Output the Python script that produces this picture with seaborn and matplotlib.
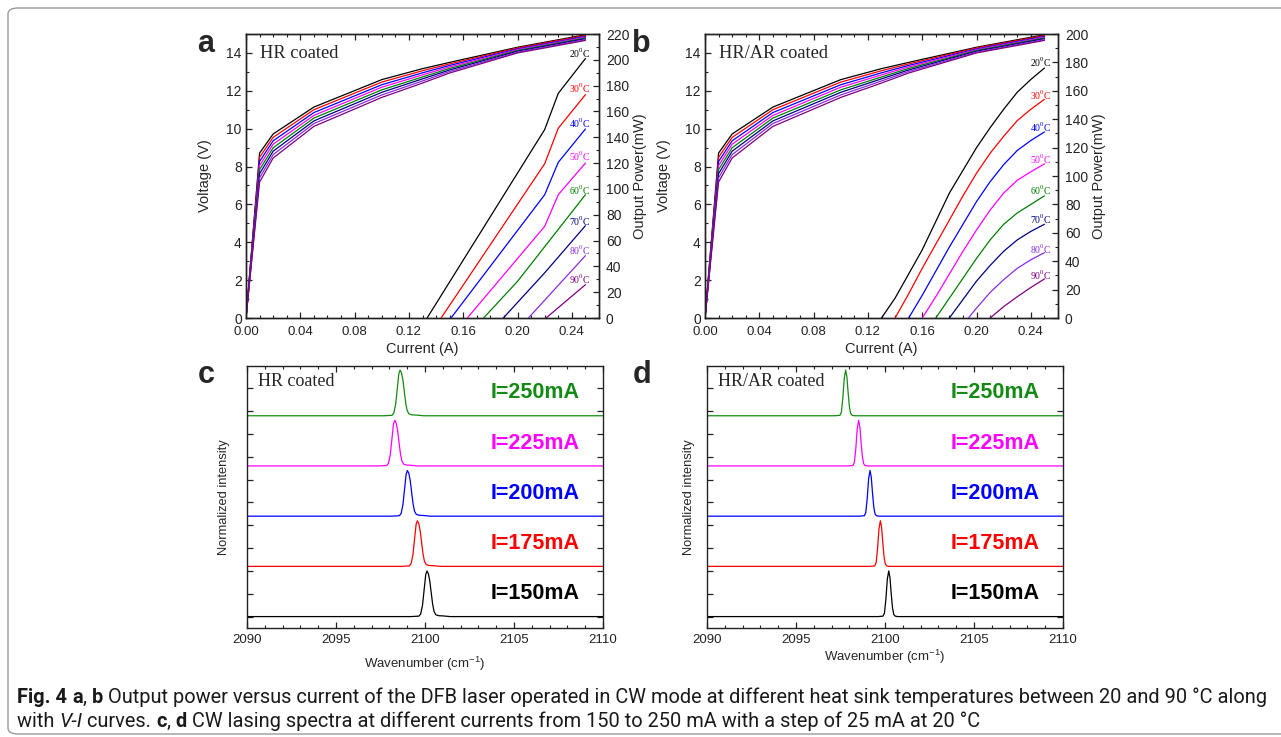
import matplotlib
matplotlib.use("Agg")
import matplotlib.pyplot as plt
import seaborn as sns
from matplotlib.ticker import MultipleLocator, FormatStrFormatter
from matplotlib.patches import FancyBboxPatch
from matplotlib import font_manager

W, H = 1281, 737

# ---------------- data ----------------
temps = [20, 30, 40, 50, 60, 70, 80, 90]
colors = ["#000000", "#ff0000", "#0000ff", "#ff00ff", "#008000", "#000080", "#8a2be2", "#800080"]

# V-I curves (same in both coatings)
cur_vi = [0.0, 0.01, 0.02, 0.05, 0.10, 0.13, 0.15, 0.20, 0.25]
volt_20 = [0, 8.71, 9.72, 11.14, 12.59, 13.17, 13.50, 14.30, 14.96]
volt_30 = [0, 8.49, 9.54, 11.00, 12.46, 13.06, 13.42, 14.26, 14.92]
volt_40 = [0, 8.27, 9.36, 10.85, 12.32, 12.95, 13.34, 14.21, 14.87]
volt_50 = [0, 8.05, 9.18, 10.70, 12.19, 12.84, 13.26, 14.17, 14.83]
volt_60 = [0, 7.84, 8.99, 10.56, 12.05, 12.73, 13.18, 14.13, 14.79]
volt_70 = [0, 7.62, 8.81, 10.41, 11.92, 12.63, 13.10, 14.09, 14.75]
volt_80 = [0, 7.40, 8.63, 10.27, 11.78, 12.52, 13.02, 14.04, 14.70]
volt_90 = [0, 7.18, 8.45, 10.12, 11.65, 12.41, 12.94, 14.00, 14.66]
volts = [volt_20, volt_30, volt_40, volt_50, volt_60, volt_70, volt_80, volt_90]

# L-I, HR coated (panel a)
hr_cur = [
    [0.1334, 0.22, 0.23, 0.25],
    [0.1437, 0.22, 0.23, 0.25],
    [0.151, 0.22, 0.23, 0.25],
    [0.163, 0.22, 0.23, 0.25],
    [0.175, 0.20, 0.25],
    [0.1895, 0.22, 0.25],
    [0.208, 0.25],
    [0.221, 0.25],
]
hr_pow = [
    [0, 146, 174, 201],
    [0, 119.5, 147, 173],
    [0, 95.5, 120.6, 146.4],
    [0, 71, 95.5, 120],
    [0, 28.4, 95.5],
    [0, 35, 71.5],
    [0, 48.3],
    [0, 25.8],
]
hr_lab_y = [205, 178, 151, 125, 98.6, 75, 52, 29.7]

# L-I, HR/AR coated (panel b)
ar_cur = [
    [0.13, 0.14, 0.15, 0.16, 0.17, 0.18, 0.19, 0.20, 0.21, 0.22, 0.23, 0.24, 0.25],
    [0.14, 0.15, 0.16, 0.17, 0.18, 0.19, 0.20, 0.21, 0.22, 0.23, 0.24, 0.25],
    [0.15, 0.16, 0.17, 0.18, 0.19, 0.20, 0.21, 0.22, 0.23, 0.24, 0.25],
    [0.16, 0.17, 0.18, 0.19, 0.20, 0.21, 0.22, 0.23, 0.24, 0.25],
    [0.17, 0.18, 0.19, 0.20, 0.21, 0.22, 0.23, 0.24, 0.25],
    [0.18, 0.19, 0.20, 0.21, 0.22, 0.23, 0.24, 0.25],
    [0.194, 0.20, 0.21, 0.22, 0.23, 0.24, 0.25],
    [0.21, 0.22, 0.23, 0.24, 0.25],
]
ar_pow = [
    [0, 14, 31, 48, 68, 88, 104, 120, 134, 147, 159, 168, 176],
    [0, 17, 35, 52, 69, 86, 102, 116, 128, 139, 147, 154],
    [0, 16, 33, 50, 66, 82, 96, 108, 118, 125, 131],
    [0, 15, 31, 47, 62, 76, 88, 97, 103, 108.5],
    [0, 14, 28, 42, 55, 66, 74, 80, 86],
    [0, 13, 26, 37, 47, 55, 61, 66],
    [0, 7, 18, 27, 35, 41, 46],
    [0, 8, 15, 21.5, 27.5],
]
ar_lab_y = [180, 156.6, 134.5, 112, 89.7, 69.7, 48.6, 29.8]

# spectra
currents = ["I=150mA", "I=175mA", "I=200mA", "I=225mA", "I=250mA"]
spec_colors = ["#000000", "#ff0000", "#0000ff", "#ff00ff", "#138a13"]
spec_offset = [0, 1.1, 2.2, 3.3, 4.4]
hr_peaks = [2100.11, 2099.57, 2099.01, 2098.30, 2098.60]
ar_peaks = [2100.21, 2099.74, 2099.16, 2098.52, 2097.79]
# line profiles (offset from peak in cm-1, normalized intensity)
hr_prof_x = [-0.9, -0.45, -0.35, -0.25, -0.15, -0.07, 0.0, 0.08, 0.16, 0.24, 0.32, 0.40, 0.50, 0.65, 0.9, 1.3]
hr_prof_y = [0.0, 0.01, 0.06, 0.25, 0.62, 0.92, 1.0, 0.94, 0.78, 0.52, 0.27, 0.11, 0.04, 0.02, 0.015, 0.0]
ar_prof_x = [-0.6, -0.32, -0.24, -0.16, -0.08, 0.0, 0.07, 0.14, 0.21, 0.28, 0.36, 0.5]
ar_prof_y = [0.0, 0.01, 0.08, 0.38, 0.82, 1.0, 0.85, 0.5, 0.2, 0.05, 0.01, 0.0]

# ---------------- style ----------------
sns.set_theme(style="ticks")
plt.rcParams["font.family"] = ["Liberation Sans", "DejaVu Sans"]
plt.rcParams["axes.linewidth"] = 1.0
plt.rcParams["axes.edgecolor"] = "#222222"
plt.rcParams["xtick.color"] = "#222222"
plt.rcParams["ytick.color"] = "#222222"

fig = plt.figure(figsize=(W / 100, H / 100), dpi=100)
fig.patch.set_facecolor("white")


def px_axes(l, t, r, b):
    return fig.add_axes([l / W, 1 - b / H, (r - l) / W, (b - t) / H])


def tick_style(ax):
    ax.tick_params(which="major", direction="in", length=4, width=0.9, labelsize=10)
    ax.tick_params(which="minor", direction="in", length=2, width=0.8)


def vi_panel(ax, p_cur, p_pow, lab_y, lab_x, pmax, title):
    ax2 = ax.twinx()
    for v, c in zip(volts, colors):
        sns.lineplot(x=cur_vi, y=v, color=c, lw=0.9, ax=ax, estimator=None, sort=False)
    for i_, p_, c in zip(p_cur, p_pow, colors):
        sns.lineplot(x=i_, y=p_, color=c, lw=0.9, ax=ax2, estimator=None, sort=False)
    for t, y, c in zip(temps, lab_y, colors):
        ax2.text(lab_x, y, r"%d$^\mathregular{0}$C" % t, color=c, ha="right", va="center",
                 fontsize=7, family="Liberation Serif")
    ax.set_xlim(0, 0.26)
    ax.set_ylim(0, 15)
    ax2.set_ylim(0, pmax)
    ax.xaxis.set_major_locator(MultipleLocator(0.04))
    ax.xaxis.set_minor_locator(MultipleLocator(0.01))
    ax.xaxis.set_major_formatter(FormatStrFormatter("%.2f"))
    ax.yaxis.set_major_locator(MultipleLocator(2))
    ax.yaxis.set_minor_locator(MultipleLocator(1))
    ax2.yaxis.set_major_locator(MultipleLocator(20))
    ax2.yaxis.set_minor_locator(MultipleLocator(10))
    tick_style(ax)
    tick_style(ax2)
    ax.tick_params(axis="x", which="both", top=True, pad=5.5, labelsize=9.5)
    ax.tick_params(axis="y", pad=3)
    ax2.tick_params(axis="y", pad=5)
    ax.set_xlabel("Current (A)", fontsize=10.5)
    ax.set_ylabel("Voltage (V)", fontsize=10.5)
    ax2.set_ylabel("Output Power(mW)", fontsize=10.5)
    ax.xaxis.set_label_coords(0.5, -0.085)
    ax.yaxis.set_label_coords(-0.096, 0.5)
    ax2.yaxis.set_label_coords(1.096, 0.5)
    ax.text(0.04, 0.932, title, transform=ax.transAxes, family="Liberation Serif",
            fontsize=13.2, va="center", ha="left")


def spec_panel(ax, peaks, prof_x, prof_y, title, xl_y, yl_x):
    for pk, off, c, lab in zip(peaks, spec_offset, spec_colors, currents):
        xs = [2090] + [pk + d for d in prof_x] + [2110]
        ys = [off] + [off + v for v in prof_y] + [off]
        sns.lineplot(x=xs, y=ys, color=c, lw=0.9, ax=ax, estimator=None, sort=False)
        ax.text(2108.7, off + 0.5, lab, color=c, ha="right", va="center",
                fontsize=15.5, fontweight="bold")
    ax.set_xlim(2090, 2110)
    ax.set_ylim(-0.25, 5.49)
    ax.xaxis.set_major_locator(MultipleLocator(5))
    ax.xaxis.set_minor_locator(MultipleLocator(1))
    ax.yaxis.set_major_locator(MultipleLocator(0.5))
    tick_style(ax)
    ax.tick_params(axis="x", which="both", top=True, pad=4, labelsize=9.5)
    ax.tick_params(axis="y", which="both", right=True, labelleft=False)
    ax.set_xlabel(r"Wavenumber (cm$^\mathregular{-1}$)", fontsize=9.5)
    ax.set_ylabel("Normalized intensity", fontsize=9.3)
    ax.xaxis.set_label_coords(0.5, xl_y)
    ax.yaxis.set_label_coords(yl_x, 0.5)
    ax.text(0.03, 0.942, title, transform=ax.transAxes, family="Liberation Serif",
            fontsize=13, va="center", ha="left")


ax_a = px_axes(246, 34, 599, 318)
ax_b = px_axes(705, 34, 1058, 318)
ax_c = px_axes(247, 366, 603, 628)
ax_d = px_axes(707, 366, 1063, 628)

vi_panel(ax_a, hr_cur, hr_pow, hr_lab_y, 0.2535, 220, "HR coated")
vi_panel(ax_b, ar_cur, ar_pow, ar_lab_y, 0.2550, 200, "HR/AR coated")
spec_panel(ax_c, hr_peaks, hr_prof_x, hr_prof_y, "HR coated", -0.103, -0.048)
spec_panel(ax_d, ar_peaks, ar_prof_x, ar_prof_y, "HR/AR coated", -0.076, -0.034)

# panel letters
for s, x, y in [("a", 206, 52), ("b", 641, 52), ("c", 206, 383), ("d", 642, 383)]:
    fig.text(x / W, 1 - y / H, s, fontsize=22, fontweight="bold", ha="center", va="baseline")

# outer frame
fig.patches.append(FancyBboxPatch((8 / W, 1 - 734 / H), 1300 / W, 726 / H,
                                  boxstyle="round,pad=0,rounding_size=0.008",
                                  transform=fig.transFigure, fill=False,
                                  edgecolor="#9a9a9a", lw=1.0, figure=fig))

# caption, drawn as runs of differently styled text
names = {f.name for f in font_manager.fontManager.ttflist}
cap_font = "Liberation Sans Narrow" if "Liberation Sans Narrow" in names else "Roboto"
line1 = [("Fig. 4 ", "bold", "normal"), ("a", "bold", "normal"), (", ", "normal", "normal"),
         ("b", "bold", "normal"),
         (" Output power versus current of the DFB laser operated in CW mode at different heat sink "
          "temperatures between 20 and 90 \u00b0C along", "normal", "normal")]
line2 = [("with ", "normal", "normal"), ("V-I", "normal", "italic"), (" curves. ", "normal", "normal"),
         ("c", "bold", "normal"), (", ", "normal", "normal"), ("d", "bold", "normal"),
         (" CW lasing spectra at different currents from 150 to 250 mA with a step of 25 mA at 20 \u00b0C",
          "normal", "normal")]

renderer = fig.canvas.get_renderer()


def draw_runs(runs, x0, y0, size):
    x = x0
    texts = []
    for s, wt, st in runs:
        t = fig.text(x / W, 1 - y0 / H, s, fontsize=size, family=cap_font, fontweight=wt,
                     fontstyle=st, ha="left", va="baseline", color="#1a1a1a")
        x += t.get_window_extent(renderer).width
        texts.append(t)
    return texts, x


tmp, xend = draw_runs(line1, 17, 703, 12)
cap_size = 12 * (1265 - 17) / (xend - 17)
for t in tmp:
    t.remove()
draw_runs(line1, 17, 703, cap_size)
draw_runs(line2, 17, 727, cap_size)

fig.savefig("out.png", dpi=100)
